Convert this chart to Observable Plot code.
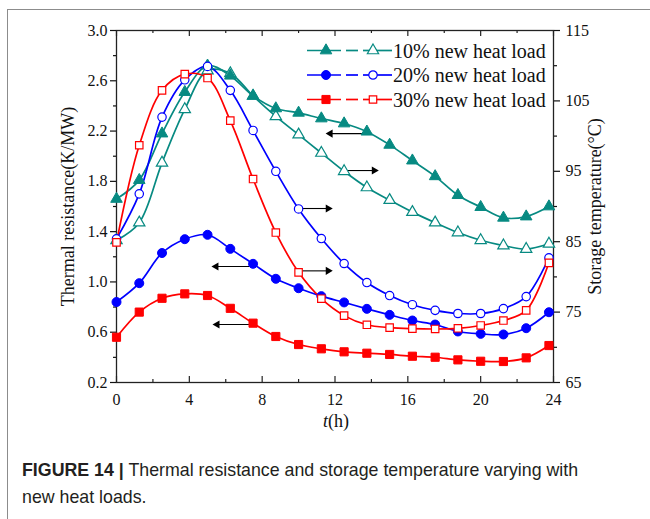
<!DOCTYPE html>
<html><head><meta charset="utf-8">
<script src="https://cdn.jsdelivr.net/npm/d3@7"></script>
<script src="https://cdn.jsdelivr.net/npm/@observablehq/plot@0.6"></script>
<style>
html,body{margin:0;padding:0;background:#fff;}
#wrap{position:relative;width:650px;height:519px;overflow:hidden;}
#border{position:absolute;left:7px;top:9px;width:700px;height:600px;border-left:1.5px solid #8c8c8c;border-top:1.5px solid #8c8c8c;}
#chart{position:absolute;left:0;top:0;}
#legend{position:absolute;left:0;top:0;}
#caption{position:absolute;left:22px;top:457px;font-family:"Liberation Sans",Arial,sans-serif;font-size:17.8px;line-height:27px;color:#231f20;width:625px;white-space:nowrap;}
</style></head><body>
<div id="wrap"><div id="border"></div><div id="chart"></div><svg id="legend" width="650" height="130"></svg>
<div id="caption"><b>FIGURE 14 |</b> Thermal resistance and storage temperature varying with<br>new heat loads.</div></div>
<script>
const hours = [0,1.25,2.5,3.75,5,6.25,7.5,8.75,10,11.25,12.5,13.75,15,16.25,17.5,18.75,20,21.25,22.5,23.75];
// thermal resistance (K/MW) - left axis
const res10 = [1.66,1.81,2.18,2.51,2.72,2.64,2.48,2.38,2.345,2.30,2.26,2.195,2.09,1.965,1.84,1.69,1.595,1.51,1.52,1.60];
const res20 = [0.84,0.99,1.23,1.34,1.375,1.263,1.144,1.025,0.95,0.887,0.837,0.786,0.738,0.693,0.661,0.606,0.587,0.582,0.632,0.759];
const res30 = [0.56,0.76,0.87,0.905,0.892,0.79,0.672,0.566,0.502,0.468,0.444,0.433,0.423,0.409,0.401,0.38,0.369,0.367,0.396,0.494];
// storage temperature (°C) - right axis
const temp10 = [85.2,87.7,96.2,103.8,109.3,108.9,105.7,102.8,100.2,97.6,95.0,92.7,90.9,89.2,87.7,86.3,85.2,84.45,83.95,84.7];
const temp20 = [85.4,91.8,102.7,108.0,109.9,106.5,100.8,95.0,89.65,85.45,81.9,79.2,77.35,76.05,75.25,74.8,74.8,75.5,77.2,82.7];
const temp30 = [84.9,98.7,106.5,108.8,108.25,102.2,93.9,86.3,80.65,76.9,74.5,73.2,72.8,72.65,72.6,72.7,73.1,73.8,75.25,82.0];

const seriesNames = ["10% new heat load","20% new heat load","30% new heat load"];
const colors = ["#078a82","#0000ff","#ff0000"];
const symbols = ["triangle","circle","square"];

const xMajor = [0,4,8,12,16,20,24];
const xMinor = [2,6,10,14,18,22];
const yMajor = [0.2,0.6,1.0,1.4,1.8,2.2,2.6,3.0];
const yMinor = [0.4,0.8,1.2,1.6,2.0,2.4,2.8];
const tMajor = [65,75,85,95,105,115];
const tMinor = [70,80,90,100,110];
const resDomain = [0.2,3.0];
const tempDomain = [65,115];

const xLabel = ["t","(h)"];
const yLabel = "Thermal resistance(K/MW)";
const y2Label = "Storage temperature(°C)";

// annotation arrows: [tail x, head x, y (left-axis units)]
const arrowTail = [13.77,12.67,10.2,7.45,10.2,7.45];
const arrowHead = [11.74,14.15,11.62,5.47,11.62,5.53];
const arrowY    = [2.18,1.886,1.584,1.123,1.088,0.661];

const toLeft = d3.scaleLinear(tempDomain, resDomain);

const resSeries = [res10,res20,res30];
const tempSeries = [temp10,temp20,temp30];
const resRows = resSeries.map((arr,s)=>hours.map((t,i)=>({t, v:arr[i], s})));
const tempRows = tempSeries.map((arr,s)=>hours.map((t,i)=>({t, v:toLeft(arr[i]), s})));
const arrows = arrowTail.map((x1,i)=>({x1, x2:arrowHead[i], y:arrowY[i], dir: arrowHead[i] > x1 ? 90 : -90}));

const W=650, H=445, mL=116, mR=97, mT=30, mB=63;
const fh = H - mT - mB;
const serif = "'Liberation Serif','Times New Roman',serif";
const lineW = 1.7;

const marks = [
  Plot.frame({stroke:"#222", strokeWidth:1.3}),
  // inward ticks on bottom and top
  Plot.tickX(xMajor, {x:d=>d, insetTop: fh-6, stroke:"#222", strokeWidth:1.2}),
  Plot.tickX(xMinor, {x:d=>d, insetTop: fh-3, stroke:"#222", strokeWidth:1.2}),
  Plot.tickX(xMajor, {x:d=>d, insetBottom: fh-6, stroke:"#222", strokeWidth:1.2}),
  Plot.tickX(xMinor, {x:d=>d, insetBottom: fh-3, stroke:"#222", strokeWidth:1.2}),
  Plot.axisX(xMajor, {tickSize:0, tickPadding:11, fontSize:16, label:null, tickFormat:d=>String(d)}),
  Plot.axisY(yMajor, {anchor:"left", tickSize:6, tickPadding:3, fontSize:16, label:null, tickFormat:d=>d.toFixed(1), strokeWidth:1.2}),
  Plot.axisY(yMinor, {anchor:"left", tickSize:3, tickFormat:()=>"", label:null, strokeWidth:1.2}),
  Plot.axisY(tMajor.map(toLeft), {anchor:"right", tickSize:6, tickPadding:6, fontSize:16, label:null, tickFormat:d=>String(Math.round(toLeft.invert(d))), strokeWidth:1.2}),
  Plot.axisY(tMinor.map(toLeft), {anchor:"right", tickSize:3, tickFormat:()=>"", label:null, strokeWidth:1.2}),
  Plot.text([yLabel], {frameAnchor:"left", dx:-48, rotate:-90, textAnchor:"middle", text:d=>d, fontSize:18}),
  Plot.text([y2Label], {frameAnchor:"right", dx:42, rotate:-90, textAnchor:"middle", text:d=>d, fontSize:18}),
  Plot.text([xLabel[0]], {frameAnchor:"bottom", dy:44, dx:-7, textAnchor:"end", fontStyle:"italic", text:d=>d, fontSize:18}),
  Plot.text([xLabel[1]], {frameAnchor:"bottom", dy:44, dx:-7, textAnchor:"start", text:d=>d, fontSize:18}),
];
// lines
for (let s=0;s<3;s++){
  marks.push(Plot.line(tempRows[s], {x:"t", y:"v", stroke:colors[s], strokeWidth:lineW, curve:"catmull-rom"}));
  marks.push(Plot.line(resRows[s], {x:"t", y:"v", stroke:colors[s], strokeWidth:lineW, curve:"catmull-rom"}));
}
// arrows
marks.push(Plot.link(arrows, {x1:"x1", x2:"x2", y1:"y", y2:"y", stroke:"#000", strokeWidth:1.1}));
marks.push(Plot.dot(arrows, {x:"x2", y:"y", symbol:"triangle", r:3, fill:"#000", stroke:"none", rotate:"dir"}));
// markers
const rr = [4.3,4.5,4.6], ro = [4.2,4.2,4.2];
for (let s=0;s<3;s++){
  marks.push(Plot.dot(tempRows[s], {x:"t", y:"v", symbol:symbols[s], r:ro[s], fill:"white", stroke:colors[s], strokeWidth:1.2}));
  marks.push(Plot.dot(resRows[s], {x:"t", y:"v", symbol:symbols[s], r:rr[s], fill:colors[s], stroke:colors[s], strokeWidth:1}));
}

const plot = Plot.plot({
  width:W, height:H, marginLeft:mL, marginRight:mR, marginTop:mT, marginBottom:mB,
  style:{fontFamily:serif, fontSize:"16px", color:"#111", background:"transparent", overflow:"visible"},
  x:{domain:[0,24]}, y:{domain:resDomain},
  marks
});
document.getElementById("chart").appendChild(plot);

// legend
const leg = d3.select("#legend");
const rowY = [50.5,75,99.5];
const symMap = {triangle:d3.symbolTriangle, circle:d3.symbolCircle, square:d3.symbolSquare};
seriesNames.forEach((name,i)=>{
  const y = rowY[i], c = colors[i];
  const g = leg.append("g");
  g.append("line").attr("x1",307).attr("x2",341).attr("y1",y).attr("y2",y).attr("stroke",c).attr("stroke-width",lineW);
  g.append("line").attr("x1",346).attr("x2",358).attr("y1",y).attr("y2",y).attr("stroke",c).attr("stroke-width",lineW);
  g.append("line").attr("x1",363).attr("x2",392).attr("y1",y).attr("y2",y).attr("stroke",c).attr("stroke-width",lineW);
  g.append("path").attr("transform",`translate(326,${y})`).attr("d",d3.symbol(symMap[symbols[i]], Math.PI*rr[i]*rr[i])()).attr("fill",c).attr("stroke",c);
  g.append("path").attr("transform",`translate(373,${y})`).attr("d",d3.symbol(symMap[symbols[i]], Math.PI*ro[i]*ro[i])()).attr("fill","white").attr("stroke",c).attr("stroke-width",1.2);
  g.append("text").attr("x",393).attr("y",y+7).attr("font-family",serif).attr("font-size","20px").attr("fill","#111").text(name);
});
</script>
</body></html>
